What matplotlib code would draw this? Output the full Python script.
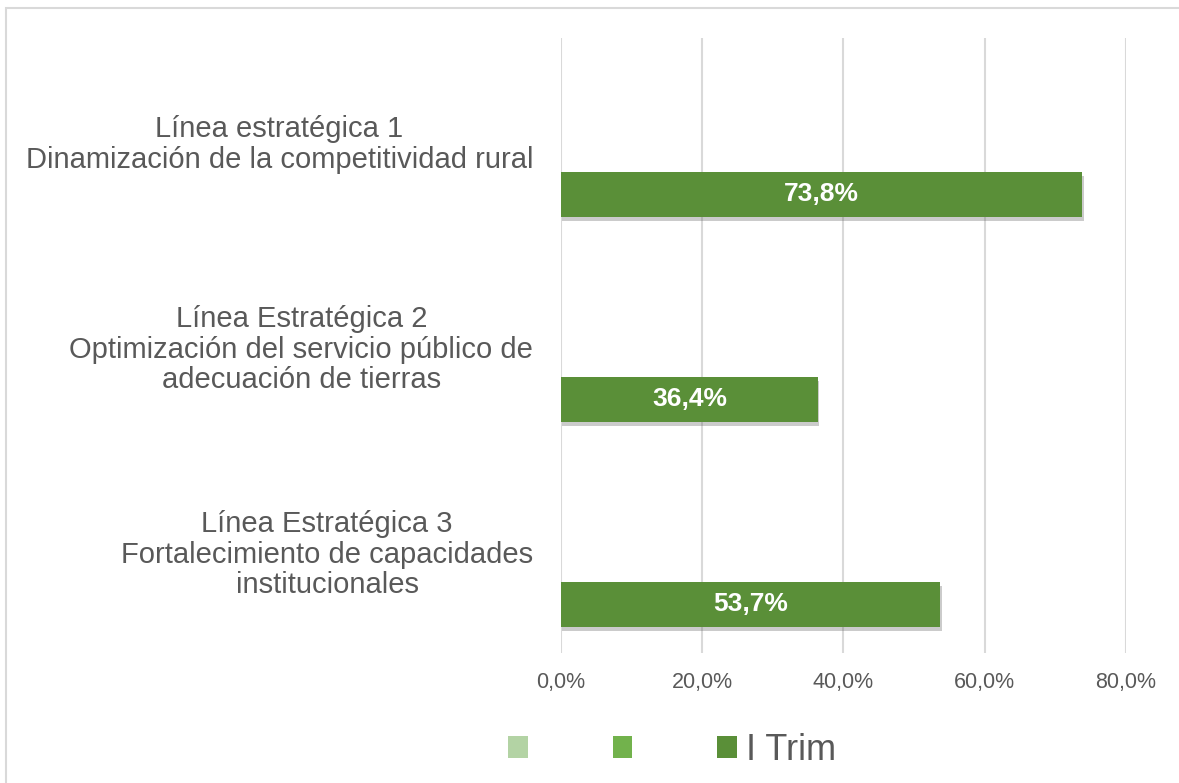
import matplotlib
matplotlib.use("Agg")
import matplotlib.pyplot as plt
from matplotlib.patches import Patch, Rectangle
import matplotlib.patheffects as pe

categories = [
    "Línea estratégica 1\nDinamización de la competitividad rural",
    "Línea Estratégica 2\nOptimización del servicio público de\nadecuación de tierras",
    "Línea Estratégica 3\nFortalecimiento de capacidades\ninstitucionales",
]
series_names = ["", "", "I Trim"]
series_colors = ["#b3d3a4", "#72b24c", "#5a8f38"]
# only the last series has values; the first two are empty in the source
serie_1 = [0, 0, 0]
serie_2 = [0, 0, 0]
i_trim = [73.8, 36.4, 53.7]
xticks = [0, 20, 40, 60, 80]

plt.rcParams['font.family'] = ['Liberation Sans', 'DejaVu Sans']
txt_gray = "#595959"

fig = plt.figure(figsize=(11.79, 7.83), dpi=100)
ax = fig.add_axes([0.4758, 0.166, 0.4792, 0.7855])

ypos = list(range(len(categories)))
offsets = [-0.263, 0.0, 0.263]
bar_h = 0.22
all_series = [serie_1, serie_2, i_trim]
for k, vals in enumerate(all_series):
    ys = [y + offsets[k] for y in ypos]
    if k < 2:
        continue  # empty series, nothing drawn
    bars = ax.barh(ys, vals, height=bar_h, color=series_colors[k], zorder=3)
    for b in bars:
        b.set_path_effects([pe.SimplePatchShadow(offset=(1, -3), alpha=0.3, shadow_rgbFace="#555555"),
                            pe.Normal()])
    for y, v in zip(ys, vals):
        ax.text(v / 2, y, f"{v:.1f}%".replace(".", ","), ha="center", va="center",
                color="white", fontsize=19, fontweight="bold", zorder=4)

ax.set_xlim(0, 80)
ax.set_ylim(len(categories) - 0.5, -0.5)
ax.set_xticks(xticks)
ax.set_xticklabels([f"{t:.1f}%".replace(".", ",") for t in xticks], fontsize=15.5, color=txt_gray)
ax.set_yticks(ypos)
ax.set_yticklabels(categories, fontsize=21, color=txt_gray)
for lbl in ax.get_yticklabels():
    lbl.set_multialignment("center")
    lbl.set_linespacing(1.1)
ax.tick_params(axis="y", length=0, pad=20)
ax.tick_params(axis="x", length=0, pad=14)
ax.grid(axis="x", color="#d9d9d9", linewidth=1.5, zorder=0)
for s in ax.spines.values():
    s.set_visible(False)

handles = [Patch(facecolor=c, edgecolor="none") for c in series_colors]
fig.legend(handles, series_names, loc="center", bbox_to_anchor=(0.57, 0.042), ncol=3,
           frameon=False, fontsize=26, handlelength=0.55, handleheight=0.55,
           handletextpad=0.25, columnspacing=2.1, labelcolor=txt_gray)

fig.patches.append(Rectangle((6 / 1179, -0.1), 1.2, 1 - 8 / 783 + 0.1, transform=fig.transFigure,
                             fill=False, edgecolor="#d9d9d9", linewidth=1.5))

fig.savefig("out.png", dpi=100)
